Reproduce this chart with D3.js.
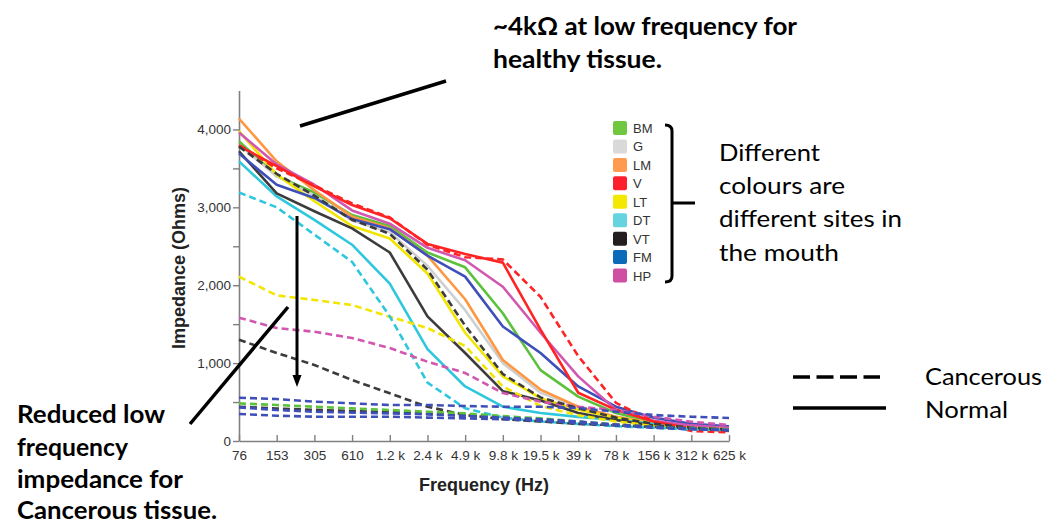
<!DOCTYPE html>
<html>
<head>
<meta charset="utf-8">
<script src="https://cdn.jsdelivr.net/npm/d3@7"></script>
<style>
  body { margin: 0; background: #fff; }
  svg { display: block; }
</style>
</head>
<body>
<div id="vis"></div>
<script>
// frequency categories (x axis)
const freqs = ["76", "153", "305", "610", "1.2 k", "2.4 k", "4.9 k", "9.8 k", "19.5 k", "39 k", "78 k", "156 k", "312 k", "625 k"];
const yTicks = [0, 500, 1000, 1500, 2000, 2500, 3000, 3500, 4000];

const sites = ["BM", "G", "LM", "V", "LT", "DT", "VT", "FM", "HP"];
const swatchColors = ["#6fc83f", "#d9d9d9", "#ff9a4e", "#ff1f2c", "#f2e800", "#66d4df", "#231f20", "#0b6bb8", "#cf4fa3"];
const lineColors = ["#5cc13b", "#cfcfcf", "#ff9640", "#ff2424", "#f2e500", "#2fc7dd", "#3c3c3c", "#3e4fb8", "#d257b0"];

// normal tissue (solid)
const normalBM = [3850, 3400, 3190, 2900, 2760, 2420, 2230, 1640, 910, 570, 360, 240, 180, 160];
const normalG  = [3800, 3400, 3150, 2830, 2680, 2250, 1680, 1000, 620, 440, 310, 230, 180, 160];
const normalLM = [4140, 3590, 3220, 2880, 2730, 2380, 1820, 1040, 660, 440, 310, 230, 170, 150];
const normalV  = [3790, 3530, 3270, 3030, 2860, 2530, 2400, 2290, 1430, 620, 400, 250, 160, 130];
const normalLT = [3980, 3420, 3080, 2760, 2600, 2150, 1390, 830, 550, 400, 300, 220, 170, 150];
const normalDT = [3590, 3140, 2840, 2520, 2020, 1180, 700, 440, 360, 310, 270, 220, 180, 150];
const normalVT = [3720, 3180, 2950, 2730, 2420, 1600, 1130, 640, 520, 360, 270, 200, 160, 140];
const normalFM = [3690, 3290, 3120, 2850, 2720, 2380, 2110, 1470, 1130, 700, 440, 300, 220, 190];
const normalHP = [3960, 3550, 3290, 2960, 2790, 2480, 2320, 1980, 1390, 830, 400, 260, 200, 170];

// cancerous tissue (dashed)
const cancerV   = [3800, 3500, 3280, 3050, 2870, 2520, 2360, 2330, 1850, 1090, 490, 250, 130, 110];
const cancerLT  = [2110, 1870, 1810, 1746, 1596, 1450, 1220, 700, 450, 330, 250, 200, 170, 150];
const cancerDT  = [3190, 3000, 2650, 2300, 1600, 750, 420, 300, 250, 220, 190, 170, 150, 140];
const cancerVT1 = [1300, 1130, 976, 783, 612, 440, 334, 280, 250, 220, 200, 180, 160, 140];
const cancerVT2 = [3780, 3430, 3150, 2840, 2660, 2200, 1480, 860, 560, 420, 300, 220, 170, 150];
const cancerVT3 = [440, 418, 400, 385, 370, 350, 330, 300, 270, 240, 210, 180, 160, 140];
const cancerHP  = [1583, 1450, 1403, 1322, 1194, 1018, 873, 616, 505, 440, 398, 312, 248, 205];
const cancerBM  = [483, 462, 440, 419, 398, 376, 355, 320, 290, 250, 210, 180, 160, 150];
const cancerFM1 = [556, 539, 505, 483, 462, 462, 449, 440, 440, 423, 376, 334, 312, 295];
const cancerFM2 = [432, 398, 376, 364, 355, 342, 321, 300, 280, 250, 210, 180, 160, 140];
const cancerFM3 = [347, 325, 312, 312, 312, 300, 291, 280, 260, 230, 200, 170, 150, 140];

const normalSeries = [
  {site: "BM", values: normalBM}, {site: "G", values: normalG}, {site: "LM", values: normalLM},
  {site: "LT", values: normalLT}, {site: "DT", values: normalDT}, {site: "VT", values: normalVT},
  {site: "FM", values: normalFM}, {site: "HP", values: normalHP}, {site: "V", values: normalV}
];
const cancerSeries = [
  {site: "V", values: cancerV}, {site: "LT", values: cancerLT}, {site: "DT", values: cancerDT},
  {site: "HP", values: cancerHP}, {site: "VT", values: cancerVT1}, {site: "VT", values: cancerVT2},
  {site: "VT", values: cancerVT3}, {site: "BM", values: cancerBM}, {site: "FM", values: cancerFM1},
  {site: "FM", values: cancerFM2}, {site: "FM", values: cancerFM3}
];

const W = 1059, H = 530;
const svg = d3.select("#vis").append("svg").attr("width", W).attr("height", H);

const x = d3.scalePoint().domain(freqs).range([239, 729]);
const y = d3.scaleLinear().domain([0, 4500]).range([441, 90.5]);
const colorOf = d3.scaleOrdinal().domain(sites).range(lineColors);

const line = d3.line()
  .x((d, i) => x(freqs[i]))
  .y(d => y(d));

// axes
const axisColor = "#808080";
const axisFont = "Liberation Sans, Arial, sans-serif";
const gx = svg.append("g").attr("transform", "translate(0," + y(0) + ")")
  .call(d3.axisBottom(x).tickSizeInner(-6).tickSizeOuter(0).tickPadding(9));
const gy = svg.append("g").attr("transform", "translate(" + x(freqs[0]) + ",0)")
  .call(d3.axisLeft(y).tickValues(yTicks).tickSizeInner(6).tickSizeOuter(0).tickPadding(2)
    .tickFormat(d => d % 1000 === 0 ? d3.format(",")(d) : ""));
[gx, gy].forEach(g => {
  g.select(".domain").attr("stroke", axisColor).attr("stroke-width", 1.6);
  g.selectAll(".tick line").attr("stroke", axisColor).attr("stroke-width", 1.4);
  g.selectAll(".tick text").attr("fill", "#333").style("font-family", axisFont).style("font-size", "13.5px");
});

// lines
svg.append("g").selectAll("path.normal")
  .data(normalSeries).enter().append("path")
  .attr("class", "normal")
  .attr("d", d => line(d.values))
  .attr("fill", "none")
  .attr("stroke", d => colorOf(d.site))
  .attr("stroke-width", 2.6)
  .attr("stroke-linejoin", "round");

svg.append("g").selectAll("path.cancer")
  .data(cancerSeries).enter().append("path")
  .attr("class", "cancer")
  .attr("d", d => line(d.values))
  .attr("fill", "none")
  .attr("stroke", d => colorOf(d.site))
  .attr("stroke-width", 2.6)
  .attr("stroke-dasharray", "7,4");

// axis titles
svg.append("text")
  .attr("transform", "translate(185,268)rotate(-90)")
  .attr("text-anchor", "middle")
  .style("font-family", axisFont)
  .style("font-weight", "bold").style("font-size", "18px").attr("fill", "#222")
  .text("Impedance (Ohms)");
svg.append("text")
  .attr("x", 484).attr("y", 491)
  .attr("text-anchor", "middle")
  .style("font-family", axisFont)
  .style("font-weight", "bold").style("font-size", "18px").attr("fill", "#222")
  .text("Frequency (Hz)");

// site legend
const lg = svg.append("g");
const rowY = d3.scalePoint().domain(sites).range([128, 275.5]);
lg.selectAll("rect").data(sites).enter().append("rect")
  .attr("x", 613).attr("y", d => rowY(d) - 7)
  .attr("width", 14).attr("height", 14).attr("rx", 2)
  .attr("fill", (d, i) => swatchColors[i]);
lg.selectAll("text").data(sites).enter().append("text")
  .attr("x", 633).attr("y", d => rowY(d) + 5)
  .style("font-family", axisFont).style("font-size", "13px")
  .attr("fill", "#333")
  .text(d => d);

// bracket
svg.append("path")
  .attr("d", "M665,125 Q672,125 672,131 L672,276 Q672,282 665,282 M672,203 L695,203")
  .attr("fill", "none").attr("stroke", "#000").attr("stroke-width", 3);

// annotations (text, x, baseline y, width in the picture)
const noteFont = "Lato, 'Open Sans', sans-serif";
function lines(txt, xPos, ys, widths, size, weight) {
  txt.forEach((t, i) => {
    svg.append("text").attr("x", xPos).attr("y", ys[i])
      .attr("textLength", widths[i]).attr("lengthAdjust", "spacingAndGlyphs")
      .style("font-family", noteFont).style("font-size", size + "px")
      .style("font-weight", weight).attr("fill", "#000").text(t);
  });
}
lines(["~4kΩ at low frequency for", "healthy tissue."], 493, [35, 68], [304, 169], 25, "bold");
lines(["Different", "colours are", "different sites in", "the mouth"], 719, [161, 194, 227, 261], [101, 126, 183, 120], 24, "normal");
lines(["Reduced low", "frequency", "impedance for", "Cancerous tissue."], 17, [423, 456, 488, 519], [148, 111, 166, 200], 25, "bold");
lines(["Cancerous"], 925, [385], [117], 24, "normal");
lines(["Normal"], 925, [418], [83], 24, "normal");

// pointer lines and arrow
svg.append("line").attr("x1", 300).attr("y1", 126).attr("x2", 446).attr("y2", 81)
  .attr("stroke", "#000").attr("stroke-width", 3.5);
svg.append("line").attr("x1", 288).attr("y1", 307).attr("x2", 190).attr("y2", 424)
  .attr("stroke", "#000").attr("stroke-width", 3.5);
svg.append("line").attr("x1", 297).attr("y1", 216).attr("x2", 297).attr("y2", 378)
  .attr("stroke", "#000").attr("stroke-width", 3);
svg.append("path").attr("d", "M292.5,375 L301.5,375 L297,387 Z").attr("fill", "#000");

// line-style key
svg.append("line").attr("x1", 793).attr("y1", 377).attr("x2", 880).attr("y2", 377)
  .attr("stroke", "#000").attr("stroke-width", 3.5).attr("stroke-dasharray", "17,6.5");
svg.append("line").attr("x1", 793).attr("y1", 408).attr("x2", 886).attr("y2", 408)
  .attr("stroke", "#000").attr("stroke-width", 3.5);
</script>
</body>
</html>
